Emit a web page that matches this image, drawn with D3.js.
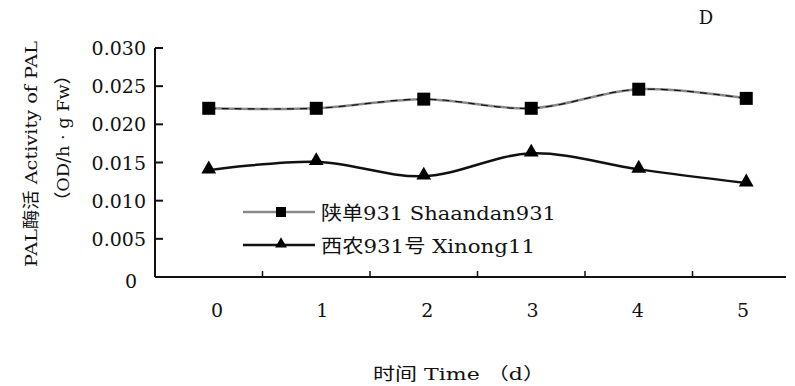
<!DOCTYPE html>
<html>
<head>
<meta charset="utf-8">
<script src="https://cdn.jsdelivr.net/npm/d3@7"></script>
<style>
	body { margin: 0; background: #fff; }
	svg text { font-family: "DejaVu Serif", "Noto Sans CJK SC", serif; fill: #111; }
</style>
</head>
<body>
<svg id="chart" width="795" height="386"></svg>
<script>
const days = ["0", "1", "2", "3", "4", "5"];
const shaandan = [0.0221, 0.0221, 0.0233, 0.0221, 0.0246, 0.0234];
const xinong = [0.0140, 0.0151, 0.0132, 0.0162, 0.0141, 0.0123];
const yTicks = [0, 0.005, 0.010, 0.015, 0.020, 0.025, 0.030];

const svg = d3.select('#chart');
const plotLeft = 155, plotRight = 800, plotTop = 48, plotBottom = 277;

const x = d3.scaleBand().domain(days).range([plotLeft, plotRight]);
const y = d3.scaleLinear().domain([0, 0.030]).range([plotBottom, plotTop]);
// the day labels sit a little off the band centres in the original
const xLabel = d3.scalePoint().domain(days).range([217, 743]);

// axes
const ax = svg.append('g').attr('stroke', '#111').attr('stroke-width', 2).attr('fill', 'none');
ax.append('line').attr('x1', plotLeft).attr('x2', plotLeft).attr('y1', plotTop).attr('y2', plotBottom);
ax.append('line').attr('x1', plotLeft).attr('x2', 786).attr('y1', plotBottom).attr('y2', plotBottom);

ax.selectAll('.yt')
	.data(yTicks.filter(d => d > 0))
	.join('line')
	.attr('x1', plotLeft).attr('x2', plotLeft + 8)
	.attr('y1', d => y(d)).attr('y2', d => y(d));

ax.selectAll('.xt')
	.data(days.slice(1))
	.join('line')
	.attr('stroke-width', 1.5)
	.attr('x1', d => x(d)).attr('x2', d => x(d))
	.attr('y1', plotBottom).attr('y2', plotBottom - 6);

svg.append('g').selectAll('text')
	.data(yTicks)
	.join('text')
	.attr('x', d => d === 0 ? 137 : 146)
	.attr('y', d => y(d) + (d === 0 ? 11 : 7))
	.attr('text-anchor', 'end')
	.attr('font-size', 19)
	.text(d => d === 0 ? '0' : d.toFixed(3));

svg.append('g').selectAll('text')
	.data(days)
	.join('text')
	.attr('x', d => xLabel(d))
	.attr('y', 317)
	.attr('text-anchor', 'middle')
	.attr('font-size', 19)
	.text(d => d);

// titles
svg.append('text')
	.attr('transform', 'translate(37,154) rotate(-90)')
	.attr('text-anchor', 'middle')
	.attr('font-size', 17)
	.attr('textLength', 226).attr('lengthAdjust', 'spacingAndGlyphs')
	.text('PAL酶活 Activity of PAL');
svg.append('text')
	.attr('transform', 'translate(69,138) rotate(-90)')
	.attr('text-anchor', 'middle')
	.attr('font-size', 17)
	.attr('textLength', 143).attr('lengthAdjust', 'spacingAndGlyphs')
	.text('（OD/h · g Fw）');
svg.append('text')
	.attr('x', 459).attr('y', 380)
	.attr('text-anchor', 'middle')
	.attr('font-size', 17)
	.attr('textLength', 172).attr('lengthAdjust', 'spacingAndGlyphs')
	.text('时间 Time （d）');
svg.append('text')
	.attr('x', 706).attr('y', 24)
	.attr('text-anchor', 'middle')
	.attr('font-size', 18)
	.text('D');

// series
const cx = (d, i) => x(days[i]) + x.bandwidth() / 2;
const line = d3.line().x(cx).y(d => y(d)).curve(d3.curveCatmullRom);

svg.append('path').attr('d', line(shaandan))
	.attr('fill', 'none').attr('stroke', '#8a8a8a').attr('stroke-width', 2.5);
svg.append('path').attr('d', line(shaandan))
	.attr('fill', 'none').attr('stroke', '#111').attr('stroke-width', 1.2)
	.attr('stroke-dasharray', '7,6');
svg.append('path').attr('d', line(xinong))
	.attr('fill', 'none').attr('stroke', '#111').attr('stroke-width', 2.5);

svg.append('g').selectAll('rect')
	.data(shaandan)
	.join('rect')
	.attr('x', (d, i) => cx(d, i) - 6.5)
	.attr('y', d => y(d) - 6.5)
	.attr('width', 13).attr('height', 13)
	.attr('fill', '#000');

const tri = d3.symbol().type(d3.symbolTriangle).size(95);
svg.append('g').selectAll('path')
	.data(xinong)
	.join('path')
	.attr('d', tri)
	.attr('transform', (d, i) => `translate(${cx(d, i)},${y(d) - 1})`)
	.attr('fill', '#000');

// legend
const legend = [
	{name: '陕单931 Shaandan931', color: '#8a8a8a', sym: 'sq', len: 235},
	{name: '西农931号 Xinong11', color: '#111', sym: 'tri', len: 214}
];
const lg = svg.append('g').selectAll('g')
	.data(legend)
	.join('g')
	.attr('transform', (d, i) => `translate(243,${212 + i * 33})`);
lg.append('line').attr('x1', 0).attr('x2', 72)
	.attr('stroke', d => d.color).attr('stroke-width', 2.5);
lg.filter(d => d.sym === 'sq').append('rect')
	.attr('x', 33).attr('y', -5).attr('width', 10).attr('height', 10).attr('fill', '#000');
lg.filter(d => d.sym === 'tri').append('path')
	.attr('d', d3.symbol().type(d3.symbolTriangle).size(60))
	.attr('transform', 'translate(38,-1)').attr('fill', '#000');
lg.append('text').attr('x', 78).attr('y', 8)
	.attr('font-size', 19)
	.attr('textLength', d => d.len).attr('lengthAdjust', 'spacingAndGlyphs')
	.text(d => d.name);
</script>
</body>
</html>
